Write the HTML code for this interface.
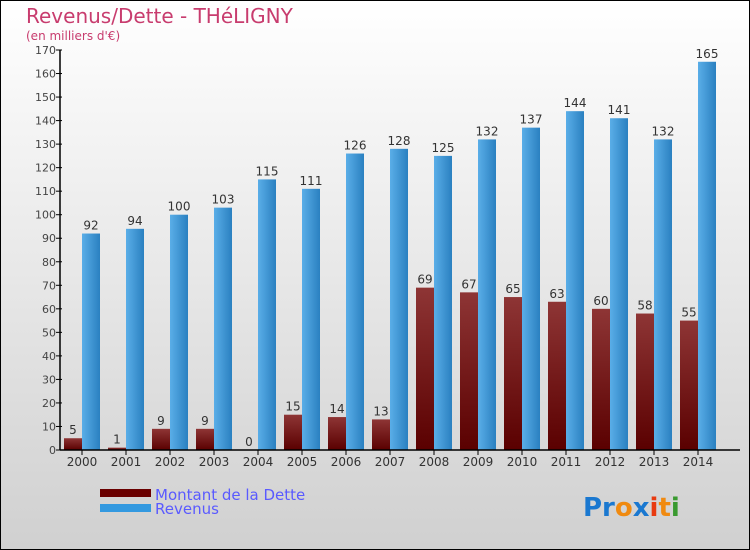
<!DOCTYPE html>
<html><head><meta charset="utf-8"><style>
body{margin:0;width:750px;height:550px;overflow:hidden}
svg{display:block;font-family:"DejaVu Sans","Liberation Sans",sans-serif}
</style></head><body>
<svg width="750" height="550">
<defs>
<linearGradient id="bg" x1="0" y1="0" x2="0" y2="1"><stop offset="0" stop-color="#ffffff"/><stop offset="1" stop-color="#d0d0d0"/></linearGradient>
<linearGradient id="gd" x1="0" y1="0" x2="0" y2="1"><stop offset="0" stop-color="#8e3535"/><stop offset="1" stop-color="#5a0000"/></linearGradient>
<linearGradient id="gr" x1="0" y1="0" x2="1" y2="0"><stop offset="0" stop-color="#5aaee8"/><stop offset="1" stop-color="#2a80c0"/></linearGradient>
</defs>
<rect x="0.5" y="0.5" width="749" height="549" fill="url(#bg)" stroke="#000"/>
<text x="26" y="23" font-size="20" fill="#c83c6e">Revenus/Dette - THéLIGNY</text>
<text x="26" y="40" font-size="12" fill="#c83c6e">(en milliers d'€)</text>
<g id="plot"></g>
<g>
<rect x="100" y="489" width="51" height="8" fill="#6a0000"/>
<text x="155" y="500" font-size="15" fill="#5a5aff">Montant de la Dette</text>
<rect x="100" y="504" width="51" height="8" fill="#3399e0"/>
<text x="155" y="514" font-size="15" fill="#5a5aff">Revenus</text>
</g>
<text x="583" y="516" font-size="26" font-weight="bold"><tspan fill="#1a78d0">Pr</tspan><tspan fill="#f08a10">o</tspan><tspan fill="#1a78d0">x</tspan><tspan fill="#e83a10">i</tspan><tspan fill="#f08a10">t</tspan><tspan fill="#3a9a30">i</tspan></text>
</svg>
<script>
const years=["2000","2001","2002","2003","2004","2005","2006","2007","2008","2009","2010","2011","2012","2013","2014"];
const dette=[5,1,9,9,0,15,14,13,69,67,65,63,60,58,55];
const revenus=[92,94,100,103,115,111,126,128,125,132,137,144,141,132,165];
const yTicks=[0,10,20,30,40,50,60,70,80,90,100,110,120,130,140,150,160,170];
const NS="http://www.w3.org/2000/svg";
const g=document.getElementById('plot');
const y=v=>450-v*400/170;
const xc=i=>82+44*i;
function mk(t,a,p){const e=document.createElementNS(NS,t);for(const k in a)e.setAttribute(k,a[k]);(p||g).appendChild(e);return e;}
yTicks.forEach(v=>{
 const t=mk('text',{x:56,y:y(v)+4,'font-size':11,fill:'#444','text-anchor':'end'});t.textContent=v;
 
 
 const l=mk('line',{x1:56,x2:62,y1:y(v),y2:y(v),stroke:'#000'});
 
 
});
years.forEach((yr,i)=>{
 const c=xc(i);
 const d=mk('rect',{x:c-18,y:y(dette[i]),width:18,height:450-y(dette[i]),fill:'url(#gd)'});
 
 
 const r=mk('rect',{x:c,y:y(revenus[i]),width:18,height:450-y(revenus[i]),fill:'url(#gr)'});
 
 
 const dl=mk('text',{x:c-9,y:y(dette[i])-4,'font-size':12,fill:'#333','text-anchor':'middle'});dl.textContent=dette[i];
 
 
 const rl=mk('text',{x:c+9,y:y(revenus[i])-4,'font-size':12,fill:'#333','text-anchor':'middle'});rl.textContent=revenus[i];
 
 
 const tl=mk('text',{x:c,y:466,'font-size':12,fill:'#333','text-anchor':'middle'});tl.textContent=yr;
 
 
 const tk=mk('line',{x1:c,x2:c,y1:450,y2:455,stroke:'#000'});
 
 
});
const ya=mk('line',{x1:60,x2:60,y1:50,y2:450,stroke:'#000','stroke-width':1.5});


const xa=mk('line',{x1:60,x2:740,y1:450,y2:450,stroke:'#000','stroke-width':1.5});


</script>
</body></html>
